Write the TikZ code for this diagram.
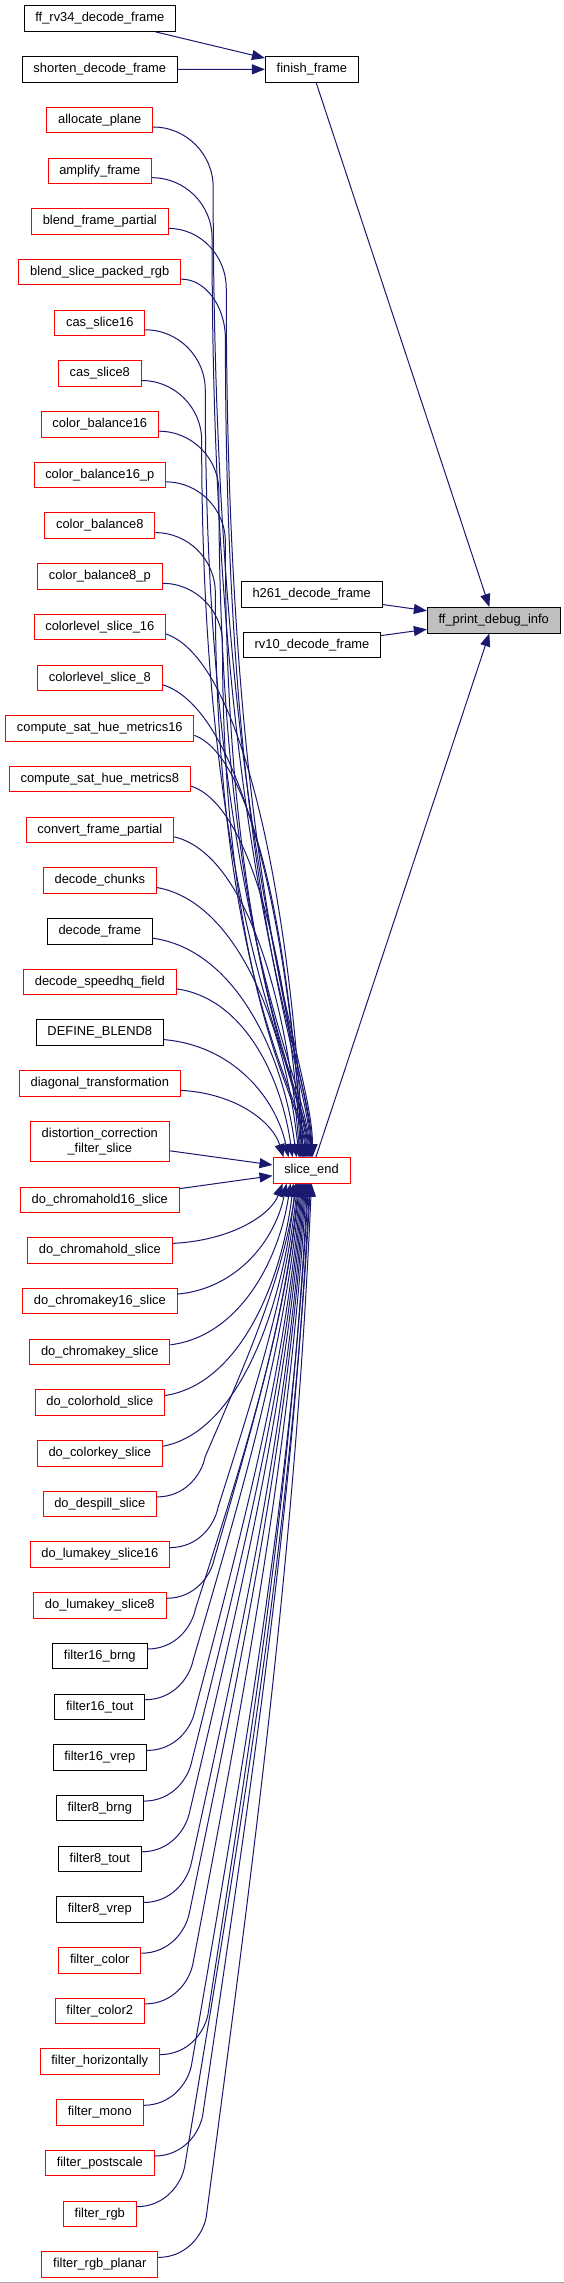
\documentclass[tikz,border=0pt]{standalone}
\usepackage{fontspec}
\setmainfont{Liberation Sans}
\usetikzlibrary{calc,arrows.meta}
\definecolor{edgeblue}{HTML}{191970}
\definecolor{boxred}{HTML}{FF0000}
\definecolor{boxgray}{HTML}{BFBFBF}
\newcommand\nodefont{\fontsize{12.9}{15}\selectfont}
\tikzset{
  box/.style={draw, fill=white, line width=0.9pt, minimum height=25.5pt,
    inner xsep=11.3pt, inner ysep=2pt, font=\nodefont, anchor=center, text=black},
  redbox/.style={box, draw=boxred},
  blackbox/.style={box, draw=black},
  graybox/.style={box, draw=black, fill=boxgray},
  edge/.style={draw=edgeblue, line width=1pt, -{Triangle[length=13pt,width=10pt]}},
}
\begin{document}
\begin{tikzpicture}[x=1pt,y=-1pt]
\useasboundingbox (0,0) rectangle (564,2283);
\fill[white] (0,0) rectangle (564,2283);
\draw[black!35, line width=1pt] (0,2282.5) -- (564,2282.5);

% right / middle column
\node[blackbox] (rv34) at (99.8,18.5) {ff\_rv34\_decode\_frame};
\node[blackbox] (shorten) at (99.8,69.5) {shorten\_decode\_frame};
\node[blackbox] (finish) at (311.8,69.3) {finish\_frame};
\node[blackbox] (h261) at (311.7,594.5) {h261\_decode\_frame};
\node[blackbox] (rv10) at (312,645) {rv10\_decode\_frame};
\node[graybox] (ffp) at (493.7,620.2) {ff\_print\_debug\_info};
\node[redbox] (slice) at (311.5,1170.3) {slice\_end};

% left column
\foreach \i/\txt/\yy/\st in {
 1/allocate\_plane/120/redbox,
 2/amplify\_frame/170.7/redbox,
 3/blend\_frame\_partial/221.4/redbox,
 4/blend\_slice\_packed\_rgb/272.1/redbox,
 5/cas\_slice16/322.8/redbox,
 6/cas\_slice8/373.5/redbox,
 7/color\_balance16/424.2/redbox,
 8/color\_balance16\_p/474.9/redbox,
 9/color\_balance8/525.6/redbox,
 10/color\_balance8\_p/576.3/redbox,
 11/colorlevel\_slice\_16/627/redbox,
 12/colorlevel\_slice\_8/677.7/redbox,
 13/compute\_sat\_hue\_metrics16/728.4/redbox,
 14/compute\_sat\_hue\_metrics8/779.1/redbox,
 15/convert\_frame\_partial/829.8/redbox,
 16/decode\_chunks/880.5/redbox,
 17/decode\_frame/931.2/blackbox,
 18/decode\_speedhq\_field/981.9/redbox,
 19/DEFINE\_BLEND8/1032.6/blackbox,
 20/diagonal\_transformation/1083.3/redbox,
 22/do\_chromahold16\_slice/1199.7/redbox,
 23/do\_chromahold\_slice/1250.4/redbox,
 24/do\_chromakey16\_slice/1301.1/redbox,
 25/do\_chromakey\_slice/1351.8/redbox,
 26/do\_colorhold\_slice/1402.5/redbox,
 27/do\_colorkey\_slice/1453.2/redbox,
 28/do\_despill\_slice/1503.9/redbox,
 29/do\_lumakey\_slice16/1554.6/redbox,
 30/do\_lumakey\_slice8/1605.3/redbox,
 31/filter16\_brng/1656/blackbox,
 32/filter16\_tout/1706.7/blackbox,
 33/filter16\_vrep/1757.4/blackbox,
 34/filter8\_brng/1808.1/blackbox,
 35/filter8\_tout/1858.8/blackbox,
 36/filter8\_vrep/1909.5/blackbox,
 37/filter\_color/1960.2/redbox,
 38/filter\_color2/2010.9/redbox,
 39/filter\_horizontally/2061.6/redbox,
 40/filter\_mono/2112.3/redbox,
 41/filter\_postscale/2163/redbox,
 42/filter\_rgb/2213.7/redbox,
 43/filter\_rgb\_planar/2264.4/redbox}
 {\node[\st] (n\i) at (99.8,\yy) {\txt};}
\node[redbox, align=center, minimum height=40.3pt] (n21) at (99.8,1141.2)
  {distortion\_correction\\\_filter\_slice};

% edges in the upper part
\draw[edge] (rv34) -- (finish);
\draw[edge] (shorten) -- (finish);
\draw[edge] (finish) -- (ffp);
\draw[edge] (h261) -- (ffp);
\draw[edge] (rv10) -- (ffp);
\draw[edge] (slice) -- (ffp);
\draw[edge] (n21) -- (slice);
\draw[edge] (n22) -- (slice);

% far callers above slice_end
\foreach \i/\yy/\xr/\ee in {1/120/152.9/40, 2/170.7/151.4/39.1, 3/221.4/167.3/38.2,
  4/272.1/180.7/37.3, 5/322.8/145.7/36.4, 6/373.5/142.3/35.5, 7/424.2/158.3/34.6,
  8/474.9/165.7/33.7, 9/525.6/155/32.8, 10/576.3/161.7/31.9}{
  \pgfmathsetmacro\myR{min(60,225-\xr)}
  \pgfmathsetmacro\myD{1158-(\yy+67)}
  \pgfmathsetmacro\myca{0.55*\myR}
  \draw[edge] ($(n\i.east)+(0,7)$) .. controls ($(n\i.east)+(\myca,7)$) and ($(n\i.east)+(\myR,34)$)
    .. ($(n\i.east)+(\myR,67)$) .. controls ($(n\i.east)+(\myR,67+0.7*\myD)$)
    and ($(slice.north west)+(\ee,-0.1*\myD)$) .. ($(slice.north west)+(\ee,0)$);
}
% near callers above slice_end
\foreach \i/\yy/\xr/\ee in {11/627/165.7/31, 12/677.7/161.3/30.1, 13/728.4/194.7/29.2,
  14/779.1/191.3/28.3, 15/829.8/172.3/27.4, 16/880.5/156.7/26.5, 17/931.2/151.7/24,
  18/981.9/175/20, 19/1032.6/163.3/16, 20/1083.3/179.3/11}{
  \pgfmathsetmacro\mydx{273+\ee-\xr}
  \pgfmathsetmacro\mydy{1158-\yy-7}
  \draw[edge] ($(n\i.east)+(0,7)$) .. controls ($(n\i.east)+(0.55*\mydx,7+0.05*\mydy)$)
    and ($(slice.north west)+(\ee-0.1*\mydx,-0.5*\mydy)$) .. ($(slice.north west)+(\ee,0)$);
}
% near callers below slice_end
\foreach \i/\yy/\xr/\ee in {23/1250.4/172/10, 24/1301.1/177.3/14, 25/1351.8/170.3/18,
  26/1402.5/164.7/21, 27/1453.2/163.3/23}{
  \pgfmathsetmacro\mydx{273+\ee-\xr}
  \pgfmathsetmacro\mydy{1183-\yy+7}
  \draw[edge] ($(n\i.east)+(0,-7)$) .. controls ($(n\i.east)+(0.55*\mydx,-7+0.05*\mydy)$)
    and ($(slice.south west)+(\ee-0.1*\mydx,-0.5*\mydy)$) .. ($(slice.south west)+(\ee,0)$);
}
% far callers below slice_end
\foreach \i/\yy/\xr/\ee in {28/1503.9/157.3/24, 29/1554.6/170.3/25, 30/1605.3/166.7/26,
  31/1656/146.3/27, 32/1706.7/145/28,
  33/1757.4/145.7/29, 34/1808.1/143/30, 35/1858.8/141.7/31,
  36/1909.5/141.7/32, 37/1960.2/141/33, 38/2010.9/144/34, 39/2061.6/159.3/35,
  40/2112.3/143/36, 41/2163/155/37, 42/2213.7/135/38, 43/2264.4/157/39}{
  \pgfmathsetmacro\myD{\yy-47-1183}
  \pgfmathsetmacro\mydx{273+\ee-\xr-48}
  \draw[edge] ($(n\i.east)+(0,-7)$) .. controls ($(n\i.east)+(28,-7)$) and ($(n\i.east)+(44.4,-29)$)
    .. ($(n\i.east)+(48,-47)$) .. controls ($(n\i.east)+(48+0.45*\mydx,-47-0.35*\myD)$)
    and ($(slice.south west)+(\ee-0.15*\mydx,0.35*\myD)$) .. ($(slice.south west)+(\ee,0)$);
}
\end{tikzpicture}
\end{document}
